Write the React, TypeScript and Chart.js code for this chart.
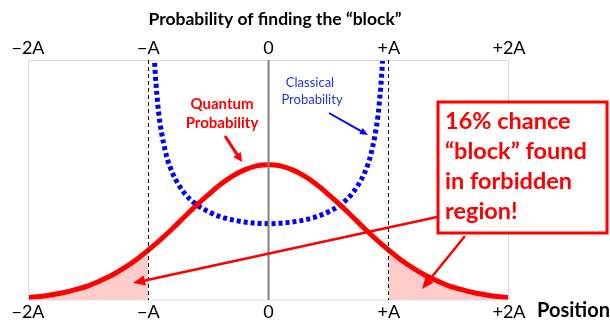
import React, { useEffect, useRef } from "react";
import { Chart, registerables } from "chart.js";

Chart.register(...registerables);

// ---- data ----
const tickValues = [-2, -1, 0, 1, 2];
const tickLabels = ["−2A", "−A", "0", "+A", "+2A"];

const quantumX = [
  -2.0, -1.9, -1.8, -1.7, -1.6, -1.5, -1.4, -1.3, -1.2, -1.1, -1.0, -0.9, -0.8, -0.7,
  -0.6, -0.5, -0.4, -0.3, -0.2, -0.1, 0.0, 0.1, 0.2, 0.3, 0.4, 0.5, 0.6, 0.7, 0.8, 0.9,
  1.0, 1.1, 1.2, 1.3, 1.4, 1.5, 1.6, 1.7, 1.8, 1.9, 2.0,
];
const quantumY = [
  0.010, 0.015, 0.022, 0.031, 0.044, 0.059, 0.080, 0.104, 0.134, 0.168, 0.208, 0.251,
  0.297, 0.346, 0.394, 0.439, 0.481, 0.516, 0.542, 0.559, 0.564, 0.559, 0.542, 0.516,
  0.481, 0.439, 0.394, 0.346, 0.297, 0.251, 0.208, 0.168, 0.134, 0.104, 0.080, 0.059,
  0.044, 0.031, 0.022, 0.015, 0.010,
];

const classicalX = [
  -0.97, -0.95, -0.92, -0.9, -0.85, -0.8, -0.7, -0.6, -0.5, -0.4, -0.3, -0.2, -0.1, 0,
  0.1, 0.2, 0.3, 0.4, 0.5, 0.6, 0.7, 0.8, 0.85, 0.9, 0.92, 0.95, 0.97,
];
const classicalY = [
  1.309, 1.019, 0.812, 0.730, 0.604, 0.531, 0.446, 0.398, 0.368, 0.347, 0.334, 0.325,
  0.320, 0.318, 0.320, 0.325, 0.334, 0.347, 0.368, 0.398, 0.446, 0.531, 0.604, 0.730,
  0.812, 1.019, 1.309,
];

const forbiddenEdge = 1; // classical turning point (A)

const titleText = "Probability of finding the “block”";
const axisTitle = "Position";
const quantumLabel = ["Quantum", "Probability"];
const classicalLabel = ["Classical", "Probability"];
const boxLines = ["16% chance", "“block” found", "in forbidden", "region!"];

const RED = "#ff0000";
const BLUE = "#0000ff";
const PINK = "#ffcccc";
const FONT = "Lato, 'Open Sans', sans-serif";

function drawArrow(
  ctx: CanvasRenderingContext2D,
  x1: number,
  y1: number,
  x2: number,
  y2: number,
  color: string,
  width: number,
  headLen: number,
  headW: number
) {
  const ang = Math.atan2(y2 - y1, x2 - x1);
  const bx = x2 - Math.cos(ang) * headLen;
  const by = y2 - Math.sin(ang) * headLen;
  ctx.save();
  ctx.strokeStyle = color;
  ctx.fillStyle = color;
  ctx.lineWidth = width;
  ctx.setLineDash([]);
  ctx.beginPath();
  ctx.moveTo(x1, y1);
  ctx.lineTo(bx + Math.cos(ang) * 1, by + Math.sin(ang) * 1);
  ctx.stroke();
  ctx.beginPath();
  ctx.moveTo(x2, y2);
  ctx.lineTo(bx + Math.sin(ang) * headW / 2, by - Math.cos(ang) * headW / 2);
  ctx.lineTo(bx - Math.sin(ang) * headW / 2, by + Math.cos(ang) * headW / 2);
  ctx.closePath();
  ctx.fill();
  ctx.restore();
}

const overlayPlugin = {
  id: "overlay",
  afterDatasetsDraw(chart: any) {
    const { ctx, chartArea: a, scales } = chart;
    const xs = scales.x;
    ctx.save();

    // plot frame
    ctx.strokeStyle = "#d9d9d9";
    ctx.lineWidth = 1;
    ctx.setLineDash([]);
    ctx.strokeRect(a.left + 0.5, a.top + 0.5, a.right - a.left - 1, a.bottom - a.top - 0.5);

    // dashed turning-point lines
    ctx.strokeStyle = "#111111";
    ctx.lineWidth = 1;
    ctx.setLineDash([4, 3]);
    [-forbiddenEdge, forbiddenEdge].forEach((v) => {
      const px = Math.floor(xs.getPixelForValue(v)) + 0.5;
      ctx.beginPath();
      ctx.moveTo(px, a.top);
      ctx.lineTo(px, a.bottom);
      ctx.stroke();
    });

    // center line
    ctx.setLineDash([]);
    ctx.strokeStyle = "#808080";
    ctx.lineWidth = 2;
    const cx = Math.floor(xs.getPixelForValue(0)) + 0.5;
    ctx.beginPath();
    ctx.moveTo(cx, a.top);
    ctx.lineTo(cx, a.bottom);
    ctx.stroke();

    // tick labels top and bottom
    ctx.fillStyle = "#000000";
    ctx.font = `18px ${FONT}`;
    ctx.textAlign = "center";
    ctx.textBaseline = "alphabetic";
    tickValues.forEach((v, i) => {
      const px = xs.getPixelForValue(v);
      ctx.fillText(tickLabels[i], px, 54);
      ctx.fillText(tickLabels[i], px, 318);
    });

    // title
    ctx.font = `bold 17.5px ${FONT}`;
    ctx.fillText(titleText, 275, 25);

    // axis title
    ctx.textAlign = "left";
    ctx.font = `bold 20px ${FONT}`;
    ctx.fillText(axisTitle, 537, 317);

    // quantum label
    ctx.textAlign = "center";
    ctx.fillStyle = RED;
    ctx.font = `bold 15px ${FONT}`;
    ctx.fillText(quantumLabel[0], 222, 109);
    ctx.fillText(quantumLabel[1], 222, 128);
    drawArrow(ctx, 225, 136, 242, 162, RED, 3, 9, 9);

    // classical label
    ctx.fillStyle = "#2233dd";
    ctx.font = `13px ${FONT}`;
    ctx.fillText(classicalLabel[0], 310, 87);
    ctx.fillText(classicalLabel[1], 312, 104);
    drawArrow(ctx, 329, 113, 368, 135, BLUE, 2, 8, 7);

    // long arrows into forbidden regions
    drawArrow(ctx, 437, 217, 133, 283, RED, 2.5, 12, 10);
    drawArrow(ctx, 465, 236, 422, 289, RED, 2.5, 12, 10);

    // callout box
    ctx.fillStyle = "#ffffff";
    ctx.fillRect(438, 102, 169, 131);
    ctx.strokeStyle = RED;
    ctx.lineWidth = 3;
    ctx.strokeRect(438, 102, 169, 131);
    ctx.fillStyle = RED;
    ctx.textAlign = "left";
    ctx.font = `bold 23.5px ${FONT}`;
    boxLines.forEach((t, i) => ctx.fillText(t, 445, 129 + i * 30));

    ctx.restore();
  },
};

export default function App() {
  const ref = useRef<HTMLCanvasElement | null>(null);

  useEffect(() => {
    document.body.style.margin = "0";
    const canvas = ref.current;
    if (!canvas) return;
    const quantumPts = quantumX.map((x, i) => ({ x, y: quantumY[i] }));
    const classicalPts = classicalX.map((x, i) => ({ x, y: classicalY[i] }));
    const leftTail = quantumPts.filter((p) => p.x <= -forbiddenEdge);
    const rightTail = quantumPts.filter((p) => p.x >= forbiddenEdge);

    const chart = new Chart(canvas, {
      type: "line",
      data: {
        datasets: [
          {
            label: "Quantum",
            data: quantumPts,
            borderColor: RED,
            borderWidth: 5,
            pointRadius: 0,
            fill: false,
            cubicInterpolationMode: "monotone",
          },
          {
            label: "Classical",
            data: classicalPts,
            borderColor: BLUE,
            borderWidth: 5,
            borderDash: [4, 3],
            borderCapStyle: "butt",
            pointRadius: 0,
            fill: false,
            cubicInterpolationMode: "monotone",
          },
          {
            label: "left tail",
            data: leftTail,
            borderWidth: 0,
            borderColor: "rgba(0,0,0,0)",
            backgroundColor: PINK,
            pointRadius: 0,
            fill: "origin",
            cubicInterpolationMode: "monotone",
          },
          {
            label: "right tail",
            data: rightTail,
            borderWidth: 0,
            borderColor: "rgba(0,0,0,0)",
            backgroundColor: PINK,
            pointRadius: 0,
            fill: "origin",
            cubicInterpolationMode: "monotone",
          },
        ],
      },
      options: {
        responsive: false,
        animation: false,
        layout: { padding: { left: 28, right: 101, top: 60, bottom: 26 } },
        plugins: { legend: { display: false }, tooltip: { enabled: false } },
        scales: {
          x: { type: "linear", min: -2, max: 2, display: false },
          y: { type: "linear", min: 0, max: 1.0, display: false },
        },
      },
      plugins: [overlayPlugin],
    });
    return () => chart.destroy();
  }, []);

  return (
    <div style={{ position: "absolute", left: 0, top: 0, width: 610, height: 326 }}>
      <canvas ref={ref} width={610} height={326} style={{ width: 610, height: 326 }} />
    </div>
  );
}
